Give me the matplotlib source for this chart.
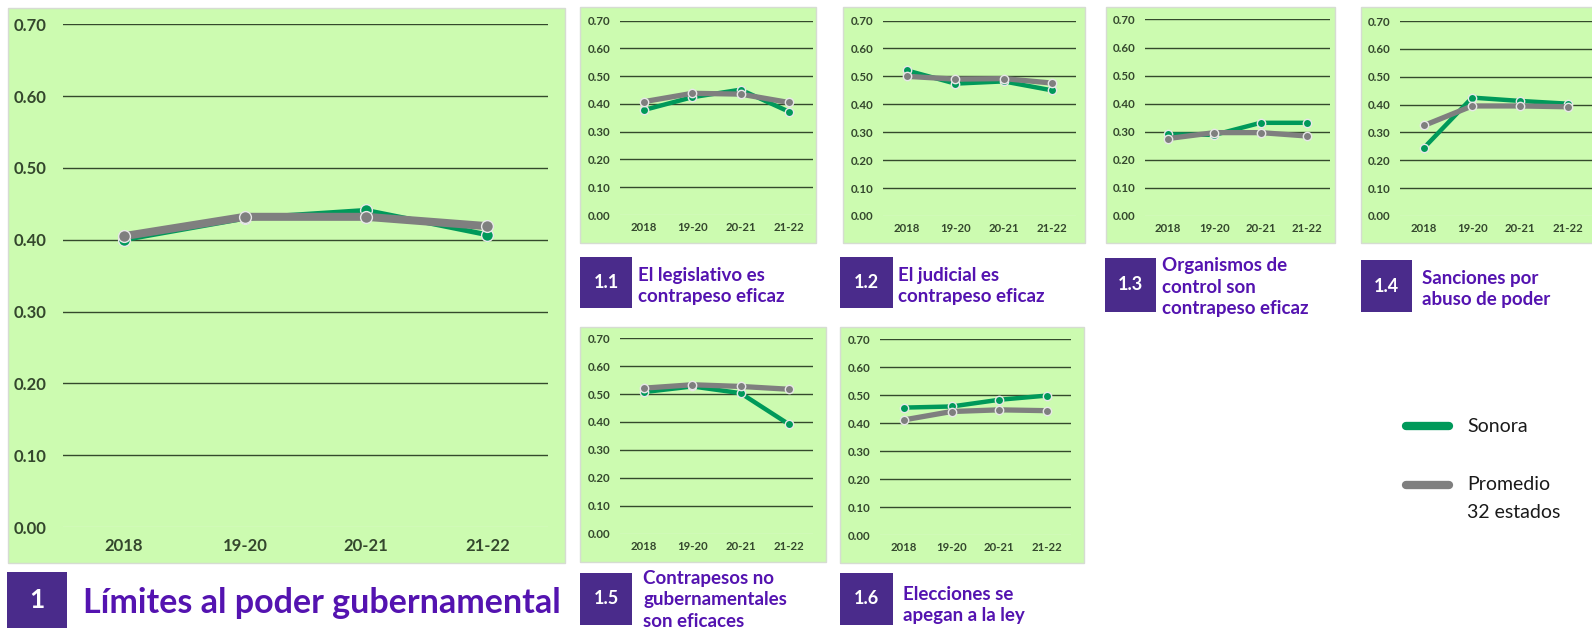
import matplotlib
matplotlib.use('Agg')
import matplotlib.pyplot as plt
from matplotlib.patches import Rectangle

# datos
categorias = ['2018', '19-20', '20-21', '21-22']
etiquetas_y = ['0.00', '0.10', '0.20', '0.30', '0.40', '0.50', '0.60', '0.70']

sonora_1 = [0.400, 0.430, 0.441, 0.407]
promedio_1 = [0.405, 0.432, 0.432, 0.419]
sonora_11 = [0.378, 0.424, 0.451, 0.372]
promedio_11 = [0.408, 0.438, 0.435, 0.405]
sonora_12 = [0.521, 0.474, 0.482, 0.450]
promedio_12 = [0.500, 0.490, 0.492, 0.476]
sonora_13 = [0.291, 0.289, 0.332, 0.332]
promedio_13 = [0.276, 0.297, 0.297, 0.285]
sonora_14 = [0.245, 0.425, 0.413, 0.403]
promedio_14 = [0.325, 0.395, 0.395, 0.392]
sonora_15 = [0.507, 0.527, 0.503, 0.392]
promedio_15 = [0.521, 0.533, 0.527, 0.517]
sonora_16 = [0.455, 0.459, 0.483, 0.498]
promedio_16 = [0.411, 0.441, 0.447, 0.444]

titulo_1 = 'Límites al poder gubernamental'
titulos = {
    '1.1': 'El legislativo es\ncontrapeso eficaz',
    '1.2': 'El judicial es\ncontrapeso eficaz',
    '1.3': 'Organismos de\ncontrol son\ncontrapeso eficaz',
    '1.4': 'Sanciones por\nabuso de poder',
    '1.5': 'Contrapesos no\ngubernamentales\nson eficaces',
    '1.6': 'Elecciones se\napegan a la ley',
}

VERDE_FONDO = '#ccfbb0'
VERDE = '#00995a'
GRIS = '#7f7f7f'
MORADO_CAJA = '#4a2b8b'
MORADO_TEXTO = '#5413b0'
TEXTO_EJE = '#34472d'
LINEA_GRID = '#34492c'

W, H = 1592, 628
fig = plt.figure(figsize=(W / 100, H / 100), dpi=100)
plt.rcParams['font.family'] = ['Lato', 'DejaVu Sans']


def caja_px(x0, y0, x1, y1):
    return [x0 / W, 1 - y1 / H, (x1 - x0) / W, (y1 - y0) / H]


def fondo(x0, y0, x1, y1):
    r = Rectangle((x0 / W, 1 - y1 / H), (x1 - x0) / W, (y1 - y0) / H,
                  transform=fig.transFigure, facecolor=VERDE_FONDO,
                  edgecolor='#d6dcd2', lw=1, zorder=0)
    fig.add_artist(r)


def grafica(sonora, promedio, area, ejes, fs_y, fs_x, lw_g, lw_v, ms, pad_y, pad_x):
    fondo(*area)
    ax = fig.add_axes(caja_px(*ejes))
    ax.set_facecolor('none')
    ax.set_xlim(-0.5, 3.5)
    ax.set_ylim(0, 0.7)
    for i, e in enumerate(etiquetas_y):
        v = i / 10
        c = '#e3f7d6' if i == 0 else LINEA_GRID
        ax.axhline(v, color=c, lw=1.0, zorder=1)
    x = range(len(categorias))
    ax.plot(x, sonora, '-o', color=VERDE, lw=lw_v, ms=ms, mec='#e8e8e8', mew=1,
            solid_joinstyle='round', clip_on=False, zorder=3)
    ax.plot(x, promedio, '-o', color=GRIS, lw=lw_g, ms=ms, mec='#e8e8e8', mew=1,
            solid_joinstyle='round', clip_on=False, zorder=4)
    ax.set_xticks(list(x))
    ax.set_xticklabels(categorias)
    ax.set_yticks([i / 10 for i in range(len(etiquetas_y))])
    ax.set_yticklabels(etiquetas_y)
    ax.tick_params(length=0, colors=TEXTO_EJE)
    ax.tick_params(axis='y', pad=pad_y, labelsize=fs_y)
    ax.tick_params(axis='x', pad=pad_x, labelsize=fs_x)
    for t in ax.get_xticklabels() + ax.get_yticklabels():
        t.set_fontweight('bold')
    for s in ax.spines.values():
        s.set_visible(False)
    return ax


def encabezado(num, texto, caja, tx, ty, fs_num, fs_txt, ls=1.0):
    x0, y0, x1, y1 = caja
    r = Rectangle((x0 / W, 1 - y1 / H), (x1 - x0) / W, (y1 - y0) / H,
                  transform=fig.transFigure, facecolor=MORADO_CAJA,
                  edgecolor='none', zorder=2)
    fig.add_artist(r)
    fig.text((x0 + x1) / 2 / W, 1 - (y0 + y1) / 2 / H, num, color='white',
             fontsize=fs_num, fontweight='bold', ha='center', va='center')
    fig.text(tx / W, 1 - ty / H, texto, color=MORADO_TEXTO, fontsize=fs_txt,
             fontweight='bold', ha='left', va='center', linespacing=ls)


# grafica principal
grafica(sonora_1, promedio_1, (8, 8, 565, 563), (63, 24.4, 548, 527),
        12, 12, 5.8, 3.6, 8.5, 12, 8)
encabezado('1', titulo_1, (7, 572, 67, 628), 83, 603, 19, 24.5)

# graficas pequeñas
pequenas = [
    ('1.1', sonora_11, promedio_11, (580, 7, 816, 243), (620, 20.5, 813, 215),
     (580, 257, 632, 308), 638, 286),
    ('1.2', sonora_12, promedio_12, (843, 7, 1085, 243), (883, 20.5, 1076, 216),
     (840, 257, 893, 308), 898, 286),
    ('1.3', sonora_13, promedio_13, (1106, 7, 1335, 243), (1145, 19.5, 1330, 216),
     (1105, 258, 1156, 312), 1162, 287),
    ('1.4', sonora_14, promedio_14, (1361, 7, 1600, 243), (1400, 21, 1592.4, 216),
     (1361, 260, 1412, 312), 1422, 289),
    ('1.5', sonora_15, promedio_15, (580, 327, 826, 562), (620, 338, 813, 534),
     (580, 573, 632, 625), 643, 600),
    ('1.6', sonora_16, promedio_16, (840, 327, 1084, 563), (880, 339, 1071, 535),
     (840, 573, 893, 625), 903, 605),
]
for num, s, p, area, ejes, caja, tx, ty in pequenas:
    grafica(s, p, area, ejes, 8.3, 8.2, 3.8, 3.2, 6, 7, 5)
    encabezado(num, titulos[num], caja, tx, ty, 13, 13.5, 1.3)

# leyenda
fig.add_artist(plt.Line2D([1406 / W, 1449 / W], [1 - 426 / H, 1 - 426 / H],
                          transform=fig.transFigure, color=VERDE, lw=6,
                          solid_capstyle='round'))
fig.add_artist(plt.Line2D([1406 / W, 1449 / W], [1 - 485 / H, 1 - 485 / H],
                          transform=fig.transFigure, color=GRIS, lw=6,
                          solid_capstyle='round'))
fig.text(1467 / W, 1 - 426 / H, 'Sonora', fontsize=14, color='#1a1a1a',
         ha='left', va='center')
fig.text(1467 / W, 1 - 485 / H, 'Promedio', fontsize=14, color='#1a1a1a',
         ha='left', va='center')
fig.text(1467 / W, 1 - 513 / H, '32 estados', fontsize=14, color='#1a1a1a',
         ha='left', va='center')

plt.savefig('out.png', dpi=100)
plt.close(fig)
